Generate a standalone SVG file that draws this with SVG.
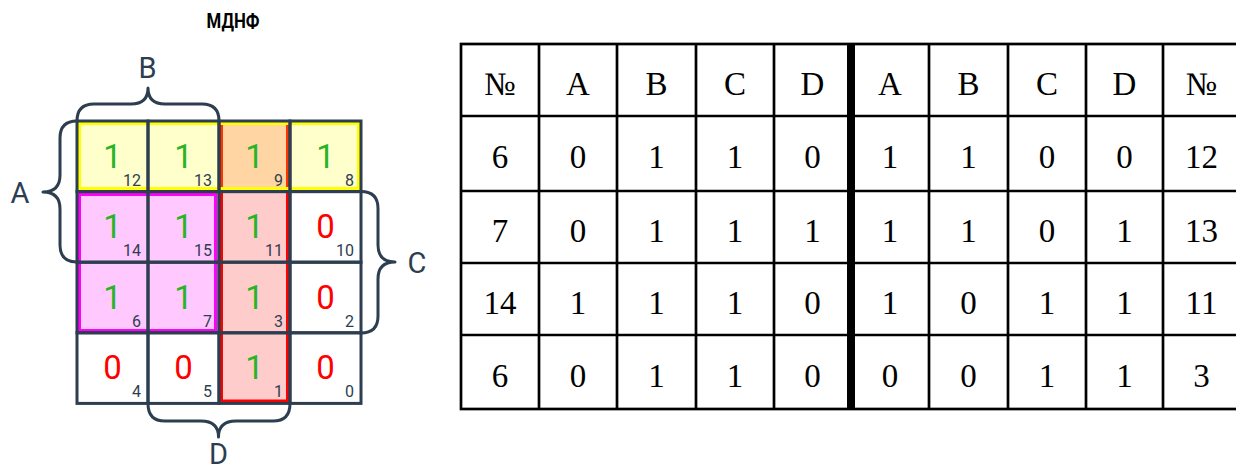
<svg xmlns="http://www.w3.org/2000/svg" width="1236" height="469" viewBox="0 0 1236 469">
<style>
.bg{fill:#ffffff}
.cell{fill:none;stroke:#2c3e50;stroke-width:3}
.brace{fill:none;stroke:#2c3e50;stroke-width:3;stroke-linejoin:round;stroke-linecap:round}
.lbl{font-family:Roboto,"Liberation Sans",sans-serif;font-size:29px;fill:#2c3e50;text-anchor:middle}
.one{font-family:Roboto,"Liberation Sans",sans-serif;font-size:33px;fill:#27b427;text-anchor:middle}
.zero{font-family:Roboto,"Liberation Sans",sans-serif;font-size:33px;fill:#ff0000;text-anchor:middle}
.idx{font-family:Roboto,"Liberation Sans",sans-serif;font-size:16px;fill:#2c3e50;text-anchor:end}
.title{font-family:Roboto,"Liberation Sans",sans-serif;font-size:20px;font-weight:bold;fill:#000;text-anchor:middle}
.tl{stroke:#000;stroke-width:2.7;fill:none}
.tt{font-family:"Liberation Serif","Times New Roman",serif;font-size:33px;fill:#000;text-anchor:middle}
</style>
<rect class="bg" x="0" y="0" width="1236" height="469"/>
<g id="title"><text class="title" x="233" y="27.5" textLength="53" lengthAdjust="spacingAndGlyphs">МДНФ</text></g>

<g id="groups">
  <rect id="grp-red" x="221.5" y="123.5" width="66" height="277.5" fill="#ffcccc" stroke="#ff0000" stroke-width="3"/>
  <rect id="grp-magenta" x="79.5" y="194.5" width="136" height="136" fill="#ffc8ff" stroke="#ff00ff" stroke-width="3"/>
  <rect id="grp-yellow" x="79.5" y="123.5" width="279" height="65" fill="#ffff00" fill-opacity="0.2" stroke="#ffff00" stroke-width="3"/>
</g>

<g id="kmap">
  <g id="c12"><rect class="cell" x="77" y="121" width="71" height="70.6"/><text class="one" x="112.5" y="167.6">1</text><text class="idx" x="141" y="185.6">12</text></g>
  <g id="c13"><rect class="cell" x="148" y="121" width="71" height="70.6"/><text class="one" x="183.5" y="167.6">1</text><text class="idx" x="212" y="185.6">13</text></g>
  <g id="c9"><rect class="cell" x="219" y="121" width="71" height="70.6"/><text class="one" x="254.5" y="167.6">1</text><text class="idx" x="283" y="185.6">9</text></g>
  <g id="c8"><rect class="cell" x="290" y="121" width="71" height="70.6"/><text class="one" x="325.5" y="167.6">1</text><text class="idx" x="354" y="185.6">8</text></g>

  <g id="c14"><rect class="cell" x="77" y="191.6" width="71" height="70.6"/><text class="one" x="112.5" y="238.2">1</text><text class="idx" x="141" y="256.2">14</text></g>
  <g id="c15"><rect class="cell" x="148" y="191.6" width="71" height="70.6"/><text class="one" x="183.5" y="238.2">1</text><text class="idx" x="212" y="256.2">15</text></g>
  <g id="c11"><rect class="cell" x="219" y="191.6" width="71" height="70.6"/><text class="one" x="254.5" y="238.2">1</text><text class="idx" x="283" y="256.2">11</text></g>
  <g id="c10"><rect class="cell" x="290" y="191.6" width="71" height="70.6"/><text class="zero" x="325.5" y="238.2">0</text><text class="idx" x="354" y="256.2">10</text></g>

  <g id="c6"><rect class="cell" x="77" y="262.2" width="71" height="70.6"/><text class="one" x="112.5" y="308.8">1</text><text class="idx" x="141" y="326.8">6</text></g>
  <g id="c7"><rect class="cell" x="148" y="262.2" width="71" height="70.6"/><text class="one" x="183.5" y="308.8">1</text><text class="idx" x="212" y="326.8">7</text></g>
  <g id="c3"><rect class="cell" x="219" y="262.2" width="71" height="70.6"/><text class="one" x="254.5" y="308.8">1</text><text class="idx" x="283" y="326.8">3</text></g>
  <g id="c2"><rect class="cell" x="290" y="262.2" width="71" height="70.6"/><text class="zero" x="325.5" y="308.8">0</text><text class="idx" x="354" y="326.8">2</text></g>

  <g id="c4"><rect class="cell" x="77" y="332.8" width="71" height="70.6"/><text class="zero" x="112.5" y="379.4">0</text><text class="idx" x="141" y="397.4">4</text></g>
  <g id="c5"><rect class="cell" x="148" y="332.8" width="71" height="70.6"/><text class="zero" x="183.5" y="379.4">0</text><text class="idx" x="212" y="397.4">5</text></g>
  <g id="c1"><rect class="cell" x="219" y="332.8" width="71" height="70.6"/><text class="one" x="254.5" y="379.4">1</text><text class="idx" x="283" y="397.4">1</text></g>
  <g id="c0"><rect class="cell" x="290" y="332.8" width="71" height="70.6"/><text class="zero" x="325.5" y="379.4">0</text><text class="idx" x="354" y="397.4">0</text></g>
</g>

<g id="braces">
  <g id="brace-B"><path class="brace" d="M77,121 Q77,104 94,104 L131,104 Q148,104 148,88 Q148,104 165,104 L202,104 Q219,104 219,121"/><text class="lbl" x="147.5" y="78">B</text></g>
  <g id="brace-A"><path class="brace" d="M77,121 Q60,121 60,138 L60,175 Q60,192 43,192 Q60,192 60,209 L60,245 Q60,262 77,262"/><text class="lbl" x="20" y="203">A</text></g>
  <g id="brace-C"><path class="brace" d="M361,191.6 Q378,191.6 378,208.6 L378,245 Q378,262 395,262 Q378,262 378,279 L378,316 Q378,333 361,333"/><text class="lbl" x="417" y="273">C</text></g>
  <g id="brace-D"><path class="brace" d="M148,403.4 Q148,421 165,421 L201,421 Q218.5,421 218.5,437 Q218.5,421 236,421 L273,421 Q290,421 290,403.4"/><text class="lbl" x="218.5" y="464">D</text></g>
</g>

<g id="table">
  <g id="table-lines">
    <rect class="tl" x="461" y="44" width="779" height="365"/>
    <line class="tl" x1="461" y1="116" x2="1240" y2="116"/>
    <line class="tl" x1="461" y1="191" x2="1240" y2="191"/>
    <line class="tl" x1="461" y1="263" x2="1240" y2="263"/>
    <line class="tl" x1="461" y1="335" x2="1240" y2="335"/>
    <line class="tl" x1="539" y1="44" x2="539" y2="409"/>
    <line class="tl" x1="617" y1="44" x2="617" y2="409"/>
    <line class="tl" x1="696" y1="44" x2="696" y2="409"/>
    <line class="tl" x1="774" y1="44" x2="774" y2="409"/>
    <line stroke="#000" stroke-width="8" x1="851" y1="44" x2="851" y2="409"/>
    <line class="tl" x1="929" y1="44" x2="929" y2="409"/>
    <line class="tl" x1="1008" y1="44" x2="1008" y2="409"/>
    <line class="tl" x1="1086" y1="44" x2="1086" y2="409"/>
    <line class="tl" x1="1163" y1="44" x2="1163" y2="409"/>
  </g>
  <g id="row-header">
    <text class="tt" x="500" y="95">№</text><text class="tt" x="578" y="95">A</text><text class="tt" x="656.5" y="95">B</text><text class="tt" x="735" y="95">C</text><text class="tt" x="812.5" y="95">D</text>
    <text class="tt" x="890" y="95">A</text><text class="tt" x="968.5" y="95">B</text><text class="tt" x="1047" y="95">C</text><text class="tt" x="1124.5" y="95">D</text><text class="tt" x="1201.5" y="95">№</text>
  </g>
  <g id="row-1">
    <text class="tt" x="500" y="168">6</text><text class="tt" x="578" y="168">0</text><text class="tt" x="656.5" y="168">1</text><text class="tt" x="735" y="168">1</text><text class="tt" x="812.5" y="168">0</text>
    <text class="tt" x="890" y="168">1</text><text class="tt" x="968.5" y="168">1</text><text class="tt" x="1047" y="168">0</text><text class="tt" x="1124.5" y="168">0</text><text class="tt" x="1201.5" y="168">12</text>
  </g>
  <g id="row-2">
    <text class="tt" x="500" y="241.5">7</text><text class="tt" x="578" y="241.5">0</text><text class="tt" x="656.5" y="241.5">1</text><text class="tt" x="735" y="241.5">1</text><text class="tt" x="812.5" y="241.5">1</text>
    <text class="tt" x="890" y="241.5">1</text><text class="tt" x="968.5" y="241.5">1</text><text class="tt" x="1047" y="241.5">0</text><text class="tt" x="1124.5" y="241.5">1</text><text class="tt" x="1201.5" y="241.5">13</text>
  </g>
  <g id="row-3">
    <text class="tt" x="500" y="313.5">14</text><text class="tt" x="578" y="313.5">1</text><text class="tt" x="656.5" y="313.5">1</text><text class="tt" x="735" y="313.5">1</text><text class="tt" x="812.5" y="313.5">0</text>
    <text class="tt" x="890" y="313.5">1</text><text class="tt" x="968.5" y="313.5">0</text><text class="tt" x="1047" y="313.5">1</text><text class="tt" x="1124.5" y="313.5">1</text><text class="tt" x="1201.5" y="313.5">11</text>
  </g>
  <g id="row-4">
    <text class="tt" x="500" y="386.5">6</text><text class="tt" x="578" y="386.5">0</text><text class="tt" x="656.5" y="386.5">1</text><text class="tt" x="735" y="386.5">1</text><text class="tt" x="812.5" y="386.5">0</text>
    <text class="tt" x="890" y="386.5">0</text><text class="tt" x="968.5" y="386.5">0</text><text class="tt" x="1047" y="386.5">1</text><text class="tt" x="1124.5" y="386.5">1</text><text class="tt" x="1201.5" y="386.5">3</text>
  </g>
</g>
</svg>
